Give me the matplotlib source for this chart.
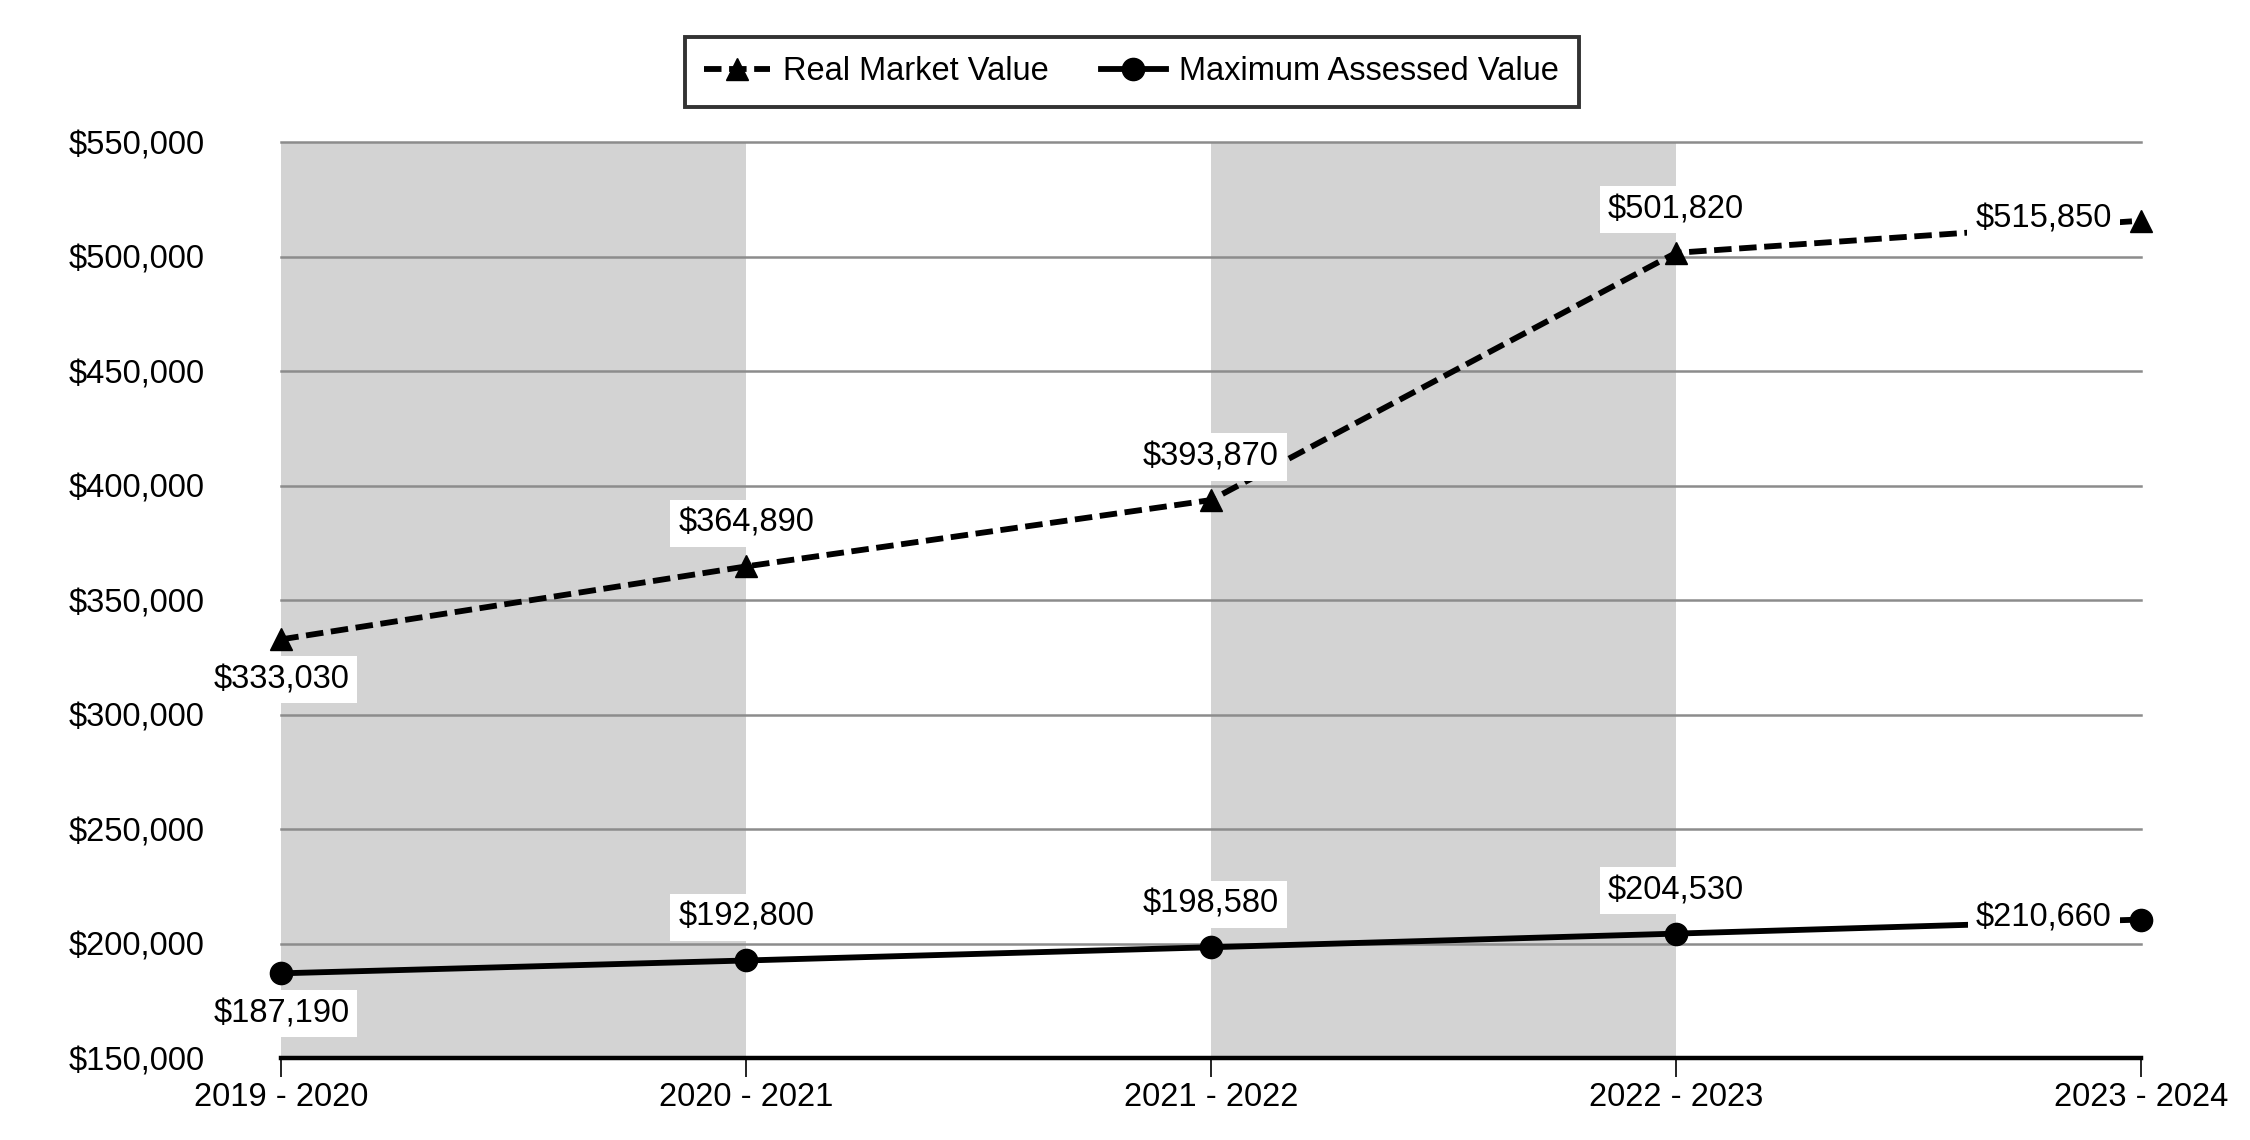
import matplotlib.pyplot as plt
from matplotlib.ticker import FuncFormatter

years = ["2019 - 2020", "2020 - 2021", "2021 - 2022", "2022 - 2023", "2023 - 2024"]
real_market = [333030, 364890, 393870, 501820, 515850]
max_assessed = [187190, 192800, 198580, 204530, 210660]
y_ticks = [150000, 200000, 250000, 300000, 350000, 400000, 450000, 500000, 550000]

plt.rcParams['font.family'] = ['Liberation Sans', 'DejaVu Sans']

fig = plt.figure(figsize=(22.5, 11.4), dpi=100)
ax = fig.add_axes([0.125, 0.0715, 0.8265, 0.8035])

x = list(range(len(years)))

# alternating shaded bands
for i in range(0, len(years) - 1, 2):
    ax.axvspan(x[i], x[i + 1], color='#d3d3d3', zorder=0, lw=0)

for yt in y_ticks[1:]:
    ax.axhline(yt, color='#8c8c8c', lw=1.8, zorder=1, clip_on=False)

ax.plot(x, real_market, color='black', lw=4.2, dashes=(3.0, 1.3), marker='^',
        markersize=16, label='Real Market Value', zorder=3, clip_on=False)
ax.plot(x, max_assessed, color='black', lw=4.2, marker='o',
        markersize=16, label='Maximum Assessed Value', zorder=3, clip_on=False)


def label_points(values):
    for i, v in enumerate(values):
        if i == 0:
            off, ha = (0, -29), 'center'
        elif i == len(values) - 1:
            off, ha = (-21, 1), 'right'
        else:
            off, ha = (0, 31), 'center'
        ax.annotate(f"${v:,.0f}", (x[i], v), xytext=off, textcoords='offset points',
                    ha=ha, va='center', fontsize=23.5, zorder=4,
                    bbox=dict(boxstyle='square,pad=0.25', fc='white', ec='none'))


label_points(real_market)
label_points(max_assessed)

ax.set_xlim(x[0], x[-1])
ax.set_ylim(150000, 550000)
ax.set_yticks(y_ticks)
ax.yaxis.set_major_formatter(FuncFormatter(lambda v, p: f"${v:,.0f}"))
ax.set_xticks(x)
ax.set_xticklabels(years)
ax.tick_params(axis='y', length=0, pad=55, labelsize=23.5)
ax.tick_params(axis='x', length=14, width=1.2, pad=3, labelsize=23.5)

for s in ['top', 'right', 'left']:
    ax.spines[s].set_visible(False)
ax.spines['bottom'].set_linewidth(3.2)
ax.spines['bottom'].set_zorder(5)

leg = fig.legend(loc='center', bbox_to_anchor=(0.503, 0.937), ncol=2, fontsize=23.5,
                 frameon=True, fancybox=False, edgecolor='black', handlelength=2.0,
                 handletextpad=0.4, columnspacing=1.6, borderpad=0.6)
leg.get_frame().set_linewidth(2.8)

fig.savefig('out.png', dpi=100)
